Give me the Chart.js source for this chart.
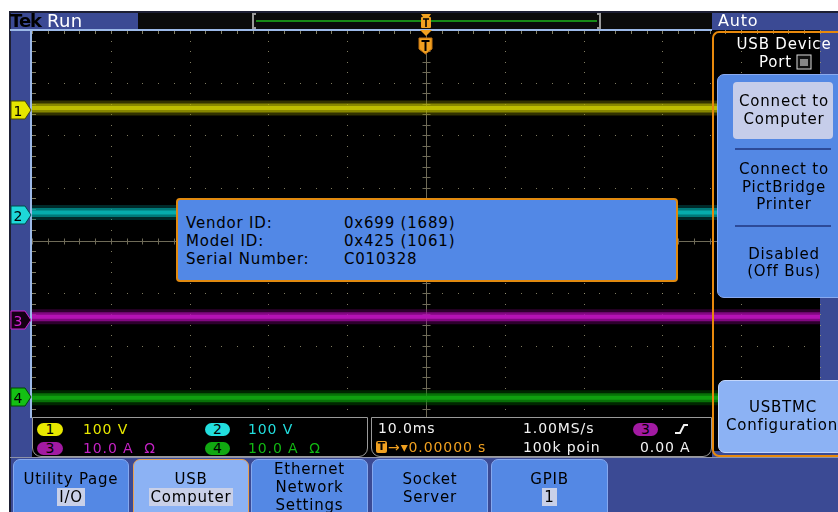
<!DOCTYPE html>
<html>
<head>
<meta charset="utf-8">
<script src="https://cdn.jsdelivr.net/npm/chart.js@4.4.1/dist/chart.umd.min.js"></script>
<style>
  html, body { margin: 0; padding: 0; }
  body { width: 838px; height: 512px; overflow: hidden; background: #fff; position: relative;
         font-family: "DejaVu Sans", Verdana, sans-serif; }
  .abs { position: absolute; white-space: nowrap; }
  #frame { left: 9px; top: 11px; width: 829px; height: 501px; background: #3b4a94;
           border-top: 2px solid #1d1f33; border-left: 2px solid #1d1f33; box-sizing: border-box; }
  #scope { position: absolute; left: 0; top: 0; }
  .txt { position: absolute; white-space: nowrap; line-height: 18px; letter-spacing: 0.8px; }
  .ro { letter-spacing: 0.9px; }
  .c { text-align: center; }
  .btn { position: absolute; box-sizing: border-box; }
  .hl { background: #c9d0e8; padding: 0 2px; }
</style>
</head>
<body>
<div id="frame" class="abs"></div>
<canvas id="scope" width="838" height="512"></canvas>

<!-- header bar -->
<div class="abs" style="left:138px;top:13px;width:574px;height:16px;background:#0b0b0b;"></div>
<div class="abs" style="left:256px;top:20px;width:341px;height:2px;background:#178a17;"></div>
<div class="abs" style="left:10px;top:29px;width:702px;height:2px;background:#9cb9e8;"></div>
<div class="abs" style="left:30px;top:30px;width:2px;height:388px;background:#9cb9e8;"></div>
<div class="txt" style="left:10px;top:10px;font-size:18px;font-weight:bold;color:#000;line-height:21px;letter-spacing:-1px;">Tek</div>
<div class="txt" style="left:47px;top:10px;font-size:18px;color:#fff;line-height:21px;letter-spacing:0.3px;">Run</div>
<div class="txt" style="left:718px;top:12px;font-size:16px;color:#fff;">Auto</div>

<!-- side menu -->
<div class="btn" style="left:712px;top:31px;width:140px;height:426px;border:2px solid #e8890c;border-right:none;border-radius:7px 0 0 7px;"></div>
<div class="txt c" style="left:724px;top:35px;width:120px;font-size:15px;color:#fff;">USB Device</div>
<div class="txt" style="left:759px;top:53px;font-size:15px;color:#fff;">Port</div>
<div class="btn" style="left:717px;top:74px;width:140px;height:224px;background:#5488e4;border:1px solid #8aaaf0;border-radius:7px;"></div>
<div class="btn" style="left:733px;top:82px;width:100px;height:57px;background:#c6cdea;border-radius:4px;"></div>
<div class="txt c" style="left:724px;top:92px;width:120px;font-size:15px;color:#000;">Connect to</div>
<div class="txt c" style="left:724px;top:110px;width:120px;font-size:15px;color:#000;">Computer</div>
<div class="abs" style="left:735px;top:148px;width:96px;height:2px;background:#2d4a98;"></div>
<div class="txt c" style="left:724px;top:160px;width:120px;font-size:15px;color:#000;">Connect to</div>
<div class="txt c" style="left:724px;top:178px;width:120px;font-size:15px;color:#000;">PictBridge</div>
<div class="txt c" style="left:724px;top:195px;width:120px;font-size:15px;color:#000;">Printer</div>
<div class="abs" style="left:735px;top:225px;width:96px;height:2px;background:#2d4a98;"></div>
<div class="txt c" style="left:724px;top:245px;width:120px;font-size:15px;color:#000;">Disabled</div>
<div class="txt c" style="left:724px;top:262px;width:120px;font-size:15px;color:#000;">(Off Bus)</div>
<div class="btn" style="left:718px;top:380px;width:140px;height:73px;background:#8cb2f4;border:1px solid #c3d6fb;border-radius:7px;"></div>
<div class="txt c" style="left:723px;top:398px;width:120px;font-size:15px;color:#000;">USBTMC</div>
<div class="txt" style="left:726px;top:416px;font-size:15px;color:#000;">Configuration</div>

<!-- readout boxes -->
<div class="abs" style="left:32px;top:417px;width:680px;height:40px;background:#000;"></div>
<div class="btn" style="left:32px;top:417px;width:336px;height:40px;border:1px solid #9a9a9a;border-radius:0 0 9px 9px;"></div>
<div class="btn" style="left:371px;top:417px;width:341px;height:40px;border:1px solid #9a9a9a;border-radius:0 0 9px 9px;"></div>
<div class="abs" style="left:10px;top:457px;width:828px;height:1px;background:#8f93a8;"></div>

<!-- bottom buttons -->
<div class="btn" style="left:13px;top:459px;width:116px;height:60px;background:#5488e4;border:1px solid #86a8ee;border-radius:7px 7px 0 0;"></div>
<div class="btn" style="left:133px;top:459px;width:116px;height:60px;background:#8cb2f4;border:1px solid #e8a050;border-radius:7px 7px 0 0;"></div>
<div class="btn" style="left:251px;top:459px;width:117px;height:60px;background:#5488e4;border:1px solid #86a8ee;border-radius:7px 7px 0 0;"></div>
<div class="btn" style="left:372px;top:459px;width:116px;height:60px;background:#5488e4;border:1px solid #86a8ee;border-radius:7px 7px 0 0;"></div>
<div class="btn" style="left:491px;top:459px;width:117px;height:60px;background:#5488e4;border:1px solid #86a8ee;border-radius:7px 7px 0 0;"></div>
<div class="txt c" style="left:13px;top:470px;width:116px;font-size:15px;color:#000;">Utility Page</div>
<div class="txt c" style="left:13px;top:488px;width:116px;font-size:15px;color:#000;"><span class="hl">I/O</span></div>
<div class="txt c" style="left:133px;top:470px;width:116px;font-size:15px;color:#000;">USB</div>
<div class="txt c" style="left:133px;top:488px;width:116px;font-size:15px;color:#000;"><span class="hl">Computer</span></div>
<div class="txt c" style="left:251px;top:460px;width:117px;font-size:15px;color:#000;">Ethernet</div>
<div class="txt c" style="left:251px;top:478px;width:117px;font-size:15px;color:#000;">Network</div>
<div class="txt c" style="left:251px;top:496px;width:117px;font-size:15px;color:#000;">Settings</div>
<div class="txt c" style="left:372px;top:470px;width:116px;font-size:15px;color:#000;">Socket</div>
<div class="txt c" style="left:372px;top:488px;width:116px;font-size:15px;color:#000;">Server</div>
<div class="txt c" style="left:491px;top:470px;width:117px;font-size:15px;color:#000;">GPIB</div>
<div class="txt c" style="left:491px;top:488px;width:117px;font-size:15px;color:#000;"><span class="hl">1</span></div>

<!-- info dialog -->
<div class="btn" style="left:176px;top:198px;width:502px;height:84px;background:#5288e6;border:2px solid #e08a10;border-radius:4px;"></div>
<div class="txt" style="left:186px;top:214px;font-size:15px;color:#000;">Vendor ID:</div>
<div class="txt" style="left:186px;top:232px;font-size:15px;color:#000;">Model ID:</div>
<div class="txt" style="left:186px;top:250px;font-size:15px;color:#000;">Serial Number:</div>
<div class="txt" style="left:344px;top:214px;font-size:15px;color:#000;">0x699 (1689)</div>
<div class="txt" style="left:344px;top:232px;font-size:15px;color:#000;">0x425 (1061)</div>
<div class="txt" style="left:344px;top:250px;font-size:15px;color:#000;">C010328</div>

<!-- readout texts -->
<div class="abs" style="left:37px;top:423px;width:26px;height:13px;border-radius:7px;background:#e8e800;"></div>
<div class="abs" style="left:205px;top:423px;width:25px;height:13px;border-radius:7px;background:#22dede;"></div>
<div class="abs" style="left:37px;top:442px;width:26px;height:13px;border-radius:7px;background:#a21aa2;"></div>
<div class="abs" style="left:205px;top:442px;width:25px;height:13px;border-radius:7px;background:#11a811;"></div>
<div class="abs" style="left:633px;top:423px;width:25px;height:13px;border-radius:7px;background:#a21aa2;"></div>
<div class="txt c" style="left:37px;top:420px;width:26px;font-size:14px;color:#000;letter-spacing:0;">1</div>
<div class="txt c" style="left:205px;top:420px;width:25px;font-size:14px;color:#000;letter-spacing:0;">2</div>
<div class="txt c" style="left:37px;top:439px;width:26px;font-size:14px;color:#000;letter-spacing:0;">3</div>
<div class="txt c" style="left:205px;top:439px;width:25px;font-size:14px;color:#000;letter-spacing:0;">4</div>
<div class="txt c" style="left:633px;top:420px;width:25px;font-size:14px;color:#000;letter-spacing:0;">3</div>
<div class="txt ro" style="left:83px;top:420px;font-size:14px;color:#e8e800;">100 V</div>
<div class="txt ro" style="left:248px;top:420px;font-size:14px;color:#22dede;">100 V</div>
<div class="txt ro" style="left:83px;top:439px;font-size:14px;color:#c422c4;">10.0 A&nbsp;&nbsp;Ω</div>
<div class="txt ro" style="left:248px;top:439px;font-size:14px;color:#12b812;">10.0 A&nbsp;&nbsp;Ω</div>
<div class="txt ro" style="left:378px;top:419px;font-size:14px;color:#f2f2f2;">10.0ms</div>
<div class="txt ro" style="left:523px;top:419px;font-size:14px;color:#f2f2f2;">1.00MS/s</div>
<div class="txt ro" style="left:523px;top:438px;font-size:14px;color:#f2f2f2;">100k poin</div>
<div class="txt ro" style="left:640px;top:438px;font-size:14px;color:#f2f2f2;">0.00 A</div>
<div class="abs" style="left:376px;top:441px;width:11px;height:12px;background:#f0a020;border-radius:2px;"></div>
<div class="txt c" style="left:376px;top:438px;width:11px;font-size:11px;font-weight:bold;color:#000;letter-spacing:0;">T</div>
<div class="txt ro" style="left:388px;top:438px;font-size:14px;color:#f0a020;">→▾0.00000 s</div>

<!-- shapes: markers, trigger icons, edge symbol, port icon -->
<svg class="abs" style="left:0;top:0;" width="838" height="512">
  <!-- record view bracket -->
  <path d="M256 14 H253 V28 H256 M597 14 H600 V28 H597" fill="none" stroke="#9a9a9a" stroke-width="2"/>
  <!-- trigger position in record view -->
  <path d="M421 14 H431 L429 17 H423 Z" fill="#f0a020"/>
  <rect x="421" y="17" width="10" height="11" rx="1" fill="#f0a020"/>
  <path d="M423 19 H429 M426 19 V27" stroke="#000" stroke-width="1.6"/>
  <path d="M420 30 H432 L426 36 Z" fill="#f0a020"/>
  <!-- trigger position on graticule -->
  <path d="M419 38 H432 V49 L425.5 54 L419 49 Z" fill="#f0a020" stroke="#c07010" stroke-width="1"/>
  <path d="M421.5 41 H429.5 M425.5 41 V51" stroke="#000" stroke-width="2"/>
  <!-- channel ground markers -->
  <path d="M11 101 H25 L31 110 L25 119 H11 Z" fill="#e6e600" stroke="#4a4a00" stroke-width="1"/>
  <text x="18" y="115.5" font-size="14" font-family="DejaVu Sans" text-anchor="middle" fill="#000">1</text>
  <path d="M11 206 H25 L31 215 L25 224 H11 Z" fill="#1ed8d8" stroke="#004a4a" stroke-width="1"/>
  <text x="18" y="220.5" font-size="14" font-family="DejaVu Sans" text-anchor="middle" fill="#000">2</text>
  <path d="M11 311 H25 L31 320 L25 329 H11 Z" fill="#140014" stroke="#d020d0" stroke-width="1"/>
  <text x="18" y="325.5" font-size="14" font-family="DejaVu Sans" text-anchor="middle" fill="#d020d0">3</text>
  <path d="M11 388 H25 L31 397 L25 406 H11 Z" fill="#14c014" stroke="#004a00" stroke-width="1"/>
  <text x="18" y="402.5" font-size="14" font-family="DejaVu Sans" text-anchor="middle" fill="#000">4</text>
  <!-- rising edge symbol -->
  <path d="M675 433 H680 L684 425 H688" fill="none" stroke="#f2f2f2" stroke-width="2"/>
  <!-- USB port icon -->
  <rect x="797" y="55" width="14" height="14" fill="#111" stroke="#ddd" stroke-width="1"/>
  <rect x="800" y="59" width="8" height="7" fill="#888"/>
</svg>

<script>
// time axis in ms (10.0 ms/div, 10 divisions) and vertical axis in divisions
const timeMs = [-50, 50];
const xDivs = [-50, -40, -30, -20, -10, 0, 10, 20, 30, 40, 50];
const yDivs = [-4, -3, -2, -1, 0, 1, 2, 3, 4];

// trace positions (divisions) across the record
const ch1Divs = [2.52, 2.52];
const ch2Divs = [0.53, 0.53];
const ch3Divs = [-1.45, -1.45];
const ch4Divs = [-2.99, -2.99];

const channels = [
  { values: ch1Divs, core: '#e8e800', mid: 'rgba(205,205,0,0.65)', halo: 'rgba(140,140,0,0.35)' },
  { values: ch2Divs, core: '#1edcdc', mid: 'rgba(0,190,190,0.65)', halo: 'rgba(0,120,120,0.35)' },
  { values: ch3Divs, core: '#e030e0', mid: 'rgba(200,20,200,0.65)', halo: 'rgba(130,0,130,0.35)' },
  { values: ch4Divs, core: '#22cc22', mid: 'rgba(20,180,20,0.65)', halo: 'rgba(0,110,0,0.35)' }
];

function points(values) {
  return timeMs.map((t, i) => ({ x: t, y: values[i] }));
}

const datasets = [];
channels.forEach(ch => {
  datasets.push({ data: points(ch.values), borderColor: ch.halo, borderWidth: 15 });
  datasets.push({ data: points(ch.values), borderColor: ch.mid, borderWidth: 9 });
  datasets.push({ data: points(ch.values), borderColor: ch.core, borderWidth: 4 });
});

// black screen with dotted graticule and tick-marked centre cross
const graticule = {
  id: 'graticule',
  beforeDatasetsDraw(chart) {
    const { ctx, chartArea: a, scales: { x, y } } = chart;
    ctx.save();
    ctx.fillStyle = '#000';
    ctx.fillRect(a.left, a.top, a.right - a.left, a.bottom - a.top);

    ctx.fillStyle = 'rgba(160,155,120,0.8)';
    // dotted vertical division lines
    xDivs.forEach(t => {
      if (t === 0) return;
      const px = Math.round(x.getPixelForValue(t));
      for (let i = -20; i <= 20; i++) {
        ctx.fillRect(px, Math.round(y.getPixelForValue(i / 5)), 1, 1);
      }
    });
    // dotted horizontal division lines
    yDivs.forEach(v => {
      if (v === 0) return;
      const py = Math.round(y.getPixelForValue(v));
      for (let i = -25; i <= 25; i++) {
        ctx.fillRect(Math.round(x.getPixelForValue(i * 2)), py, 1, 1);
      }
    });
    // edge ticks
    for (let i = -20; i <= 20; i++) {
      const py = Math.round(y.getPixelForValue(i / 5));
      ctx.fillRect(a.left + 1, py, 3, 1);
    }
    for (let i = -25; i <= 25; i++) {
      const px = Math.round(x.getPixelForValue(i * 2));
      ctx.fillRect(px, a.top + 1, 1, 3);
    }

    // centre cross
    const cx = Math.round(x.getPixelForValue(0)) + 0.5;
    const cy = Math.round(y.getPixelForValue(0)) + 0.5;
    ctx.strokeStyle = '#6f6b58';
    ctx.lineWidth = 1;
    ctx.beginPath();
    ctx.moveTo(a.left, cy); ctx.lineTo(a.right, cy);
    ctx.moveTo(cx, a.top); ctx.lineTo(cx, a.bottom);
    for (let i = -25; i <= 25; i++) {
      const px = Math.round(x.getPixelForValue(i * 2)) + 0.5;
      ctx.moveTo(px, cy - 3); ctx.lineTo(px, cy + 3);
    }
    for (let i = -20; i <= 20; i++) {
      const py = Math.round(y.getPixelForValue(i / 5)) + 0.5;
      ctx.moveTo(cx - 4, py); ctx.lineTo(cx + 4, py);
    }
    ctx.stroke();
    ctx.restore();
  }
};

new Chart(document.getElementById('scope'), {
  type: 'line',
  data: { datasets },
  options: {
    responsive: false,
    animation: false,
    devicePixelRatio: 1,
    layout: { padding: { left: 32, top: 30, right: 18, bottom: 61 } },
    scales: {
      x: { type: 'linear', min: -50, max: 50, display: false },
      y: { type: 'linear', min: -4, max: 4, display: false }
    },
    elements: { point: { radius: 0 }, line: { tension: 0, borderCapStyle: 'butt' } },
    plugins: { legend: { display: false }, tooltip: { enabled: false } }
  },
  plugins: [graticule]
});
</script>
</body>
</html>
